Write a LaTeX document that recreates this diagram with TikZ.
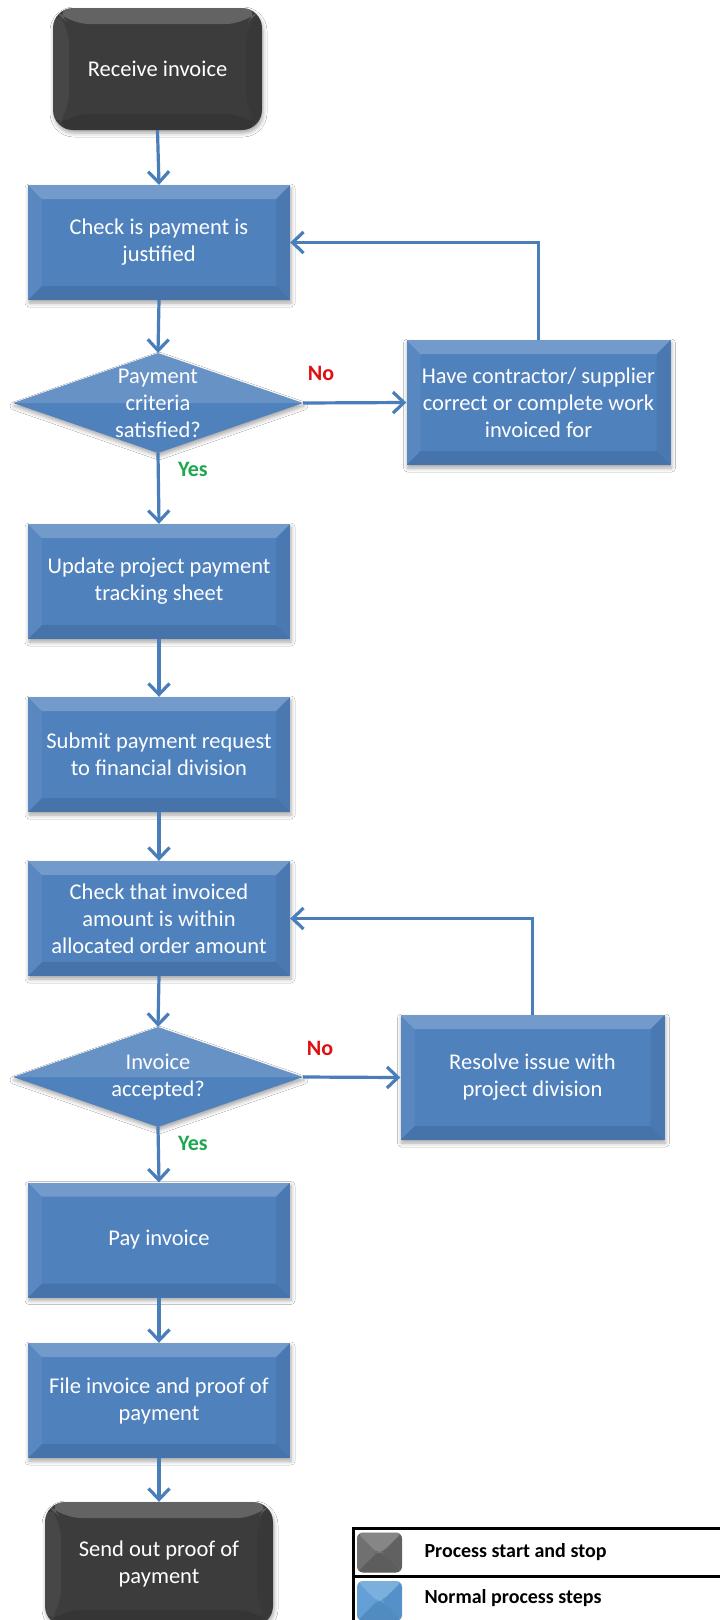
\documentclass[tikz,border=0pt]{standalone}
\usepackage{fontspec}
\setmainfont{Carlito}
\usetikzlibrary{shapes.geometric,arrows.meta,shadows.blur}
\definecolor{boxblue}{HTML}{4F81BD}
\definecolor{arrowblue}{HTML}{4A7EBB}
\definecolor{darkbox}{HTML}{3C3C3C}
\definecolor{noRed}{HTML}{E01010}
\definecolor{yesGreen}{HTML}{1EA84E}
\definecolor{legGrey}{HTML}{686868}
\definecolor{legBlue}{HTML}{5B9BD5}
\tikzset{
  bevelrect/.style={path picture={
    \fill[white,opacity=.20] (path picture bounding box.north west) -- (path picture bounding box.north east)
      -- ([xshift=-#1,yshift=-#1]path picture bounding box.north east) -- ([xshift=#1,yshift=-#1]path picture bounding box.north west) -- cycle;
    \fill[white,opacity=.06] (path picture bounding box.north west) -- ([xshift=#1,yshift=-#1]path picture bounding box.north west)
      -- ([xshift=#1,yshift=#1]path picture bounding box.south west) -- (path picture bounding box.south west) -- cycle;
    \fill[black,opacity=.06] (path picture bounding box.north east) -- ([xshift=-#1,yshift=-#1]path picture bounding box.north east)
      -- ([xshift=-#1,yshift=#1]path picture bounding box.south east) -- (path picture bounding box.south east) -- cycle;
    \fill[black,opacity=.10] (path picture bounding box.south west) -- ([xshift=#1,yshift=#1]path picture bounding box.south west)
      -- ([xshift=-#1,yshift=#1]path picture bounding box.south east) -- (path picture bounding box.south east) -- cycle;
  }},
  softshadow/.style={blur shadow={shadow xshift=1pt, shadow yshift=-3pt, shadow blur radius=4pt, shadow opacity=35}},
  boxtext/.style={text=white, align=center, font=\fontsize{22.5}{27}\selectfont},
  procbox/.style={rectangle, fill=boxblue, minimum width=262pt, minimum height=115pt, inner sep=0pt,
    boxtext, bevelrect=14pt, softshadow},
  sidebox/.style={procbox, minimum width=264pt, minimum height=125pt},
  termbox/.style={rectangle, rounded corners=20pt, fill=darkbox, inner sep=0pt, boxtext, bevelrect=16pt, softshadow},
  decision/.style={diamond, fill=boxblue, minimum width=290pt, minimum height=100pt, inner sep=0pt, softshadow,
    path picture={
      \fill[white,opacity=.14] (path picture bounding box.west) -- (path picture bounding box.north) -- (path picture bounding box.east) -- cycle;
    }},
  dtext/.style={boxtext, inner sep=0pt},
  flow/.style={draw=arrowblue, line width=3.2pt, -{Straight Barb[length=11pt,width=21pt]}},
  loopline/.style={flow},
  nolabel/.style={text=noRed, font=\fontsize{22}{25}\bfseries\selectfont},
  yeslabel/.style={text=yesGreen, font=\fontsize{22}{25}\bfseries\selectfont},
  legtext/.style={anchor=west, font=\fontsize{20}{24}\bfseries\selectfont, text=black},
  legicon/.style={rectangle, rounded corners=6pt, minimum width=45pt, minimum height=40pt, inner sep=0pt, bevelrect=20pt}
}
\begin{document}
\begin{tikzpicture}[x=1pt,y=-1pt]
\useasboundingbox (0,0) rectangle (720,1620);
\clip (0,0) rectangle (720,1620);
\fill[white] (0,0) rectangle (720,1620);

% main column
\node[termbox, minimum width=209pt, minimum height=122pt] (recv) at (157.5,69) {Receive invoice};
\node[procbox] (check) at (159,242.5) {Check is payment is\\justified};
\node[decision] (d1) at (158,403) {};
\node[dtext] (d1t) at (d1) {Payment\\criteria\\satisfied?};
\node[sidebox] (have) at (538.5,402.5) {Have contractor/ supplier\\correct or complete work\\invoiced for};
\node[procbox] (update) at (159,581.5) {Update project payment\\tracking sheet};
\node[procbox] (submit) at (159,754.5) {Submit payment request\\to financial division};
\node[procbox] (checkthat) at (159,918.5) {Check that invoiced\\amount is within\\allocated order amount};
\node[decision] (d2) at (158,1077) {};
\node[dtext] (d2t) at (d2) {Invoice\\accepted?};
\node[sidebox] (resolve) at (532.5,1077.5) {Resolve issue with\\project division};
\node[procbox] (pay) at (159,1240) {Pay invoice};
\node[procbox] (file) at (159,1400.5) {File invoice and proof of\\payment};
\node[termbox, minimum width=228pt, minimum height=124pt] (send) at (159,1564) {Send out proof of\\payment};

% labels
\node[nolabel] (no1) at (321,373) {No};
\node[yeslabel] (yes1) at (193,469) {Yes};
\node[nolabel] (no2) at (320,1048) {No};
\node[yeslabel] (yes2) at (193,1143) {Yes};

% connectors
\draw[flow] (recv.south) -- (check.north);
\draw[flow] (check.south) -- (d1.north);
\draw[flow] (d1.east) -- (have.west);
\draw[loopline] (have.north) |- (check.east);
\draw[flow] (d1.south) -- (update.north);
\draw[flow] (update.south) -- (submit.north);
\draw[flow] (submit.south) -- (checkthat.north);
\draw[flow] (checkthat.south) -- (d2.north);
\draw[flow] (d2.east) -- (resolve.west);
\draw[loopline] (resolve.north) |- (checkthat.east);
\draw[flow] (d2.south) -- (pay.north);
\draw[flow] (pay.south) -- (file.north);
\draw[flow] (file.south) -- (send.north);

% legend
\node[legicon, fill=legGrey] (icon1) at (379.5,1552.5) {};
\node[legicon, fill=legBlue] (icon2) at (379.5,1601) {};
\node[legtext] (leg1) at (421,1552) {Process start and stop};
\node[legtext] (leg2) at (421,1598) {Normal process steps};
\draw[line width=3pt] (730,1528) -- (353,1528) -- (353,1640);
\draw[line width=3pt] (353,1576) -- (730,1576);
\end{tikzpicture}
\end{document}
